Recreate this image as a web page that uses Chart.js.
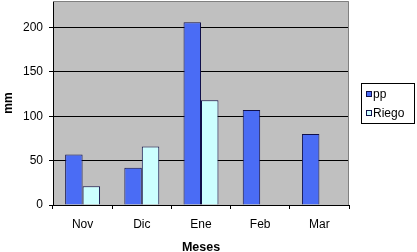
<!DOCTYPE html>
<html>
<head>
<meta charset="utf-8">
<script src="https://cdn.jsdelivr.net/npm/chart.js@4.4.0/dist/chart.umd.min.js"></script>
<style>
  html, body { margin: 0; padding: 0; background: #ffffff; }
  #wrap { width: 417px; height: 252px; position: relative; }
</style>
</head>
<body>
<div id="wrap"><canvas id="chart"></canvas></div>
<script>
const meses = ["Nov", "Dic", "Ene", "Feb", "Mar"];
const pp = [57, 42, 206, 107, 80];
const riego = [21, 66, 118, null, null];
const yTicks = [0, 50, 100, 150, 200];

const font = "'Liberation Sans', Arial, sans-serif";

// gray plot background, gray frame on top/right and a framed legend
const excelLook = {
  id: "excelLook",
  beforeDraw(chart) {
    const { ctx, chartArea: a } = chart;
    ctx.save();
    ctx.fillStyle = "#c0c0c0";
    ctx.fillRect(a.left, a.top, a.right - a.left, a.bottom - a.top);
    ctx.restore();
  },
  afterDraw(chart) {
    const { ctx, chartArea: a } = chart;
    ctx.save();
    ctx.strokeStyle = "#808080";
    ctx.lineWidth = 1;
    ctx.beginPath();
    ctx.moveTo(a.left, a.top + 0.5);
    ctx.lineTo(a.right - 0.5, a.top + 0.5);
    ctx.lineTo(a.right - 0.5, a.bottom);
    ctx.stroke();

    // legend
    const x0 = a.right + 12, y0 = 83;
    ctx.strokeStyle = "#000000";
    ctx.strokeRect(x0 + 0.5, y0 + 0.5, 53, 40);
    ctx.font = "12px " + font;
    ctx.textBaseline = "middle";
    chart.data.datasets.forEach((ds, i) => {
      const cy = y0 + 11 + i * 19;
      ctx.fillStyle = ds.backgroundColor;
      ctx.fillRect(x0 + 5, cy - 3, 6, 6);
      ctx.strokeStyle = ds.borderColor;
      ctx.strokeRect(x0 + 5.5, cy - 2.5, 5, 5);
      ctx.fillStyle = "#000000";
      ctx.fillText(ds.label, x0 + 12, cy + 1);
    });
    ctx.restore();
  }
};

new Chart(document.getElementById("chart"), {
  type: "bar",
  data: {
    labels: meses,
    datasets: [
      { label: "pp", data: pp, backgroundColor: "#4a6cf5", borderColor: "#10104a", borderWidth: 1 },
      { label: "Riego", data: riego, backgroundColor: "#ccffff", borderColor: "#10104a", borderWidth: 1 }
    ]
  },
  options: {
    responsive: true,
    maintainAspectRatio: false,
    animation: false,
    layout: { padding: { top: 1, right: 68, bottom: 0, left: 0 } },
    categoryPercentage: 0.59,
    barPercentage: 1,
    plugins: {
      legend: { display: false },
      tooltip: { enabled: false }
    },
    scales: {
      x: {
        offset: true,
        grid: { offset: true, drawOnChartArea: false, drawTicks: true, tickLength: 4, color: "#000000" },
        border: { color: "#000000" },
        ticks: { font: { family: font, size: 12 }, color: "#000000", padding: 8 },
        title: { display: true, text: "Meses", font: { family: font, size: 12.5, weight: "bold" }, color: "#000000", padding: { top: 6, bottom: -3 } },
        afterFit(scale) { scale.height = 47; scale.paddingLeft = 0; scale.paddingRight = 0; }
      },
      y: {
        min: 0,
        max: 230,
        afterBuildTicks(scale) { scale.ticks = yTicks.map(v => ({ value: v })); },
        grid: { color: "#000000", tickLength: 4 },
        border: { color: "#000000" },
        ticks: { font: { family: font, size: 12 }, color: "#000000", padding: 6 },
        title: { display: true, text: "mm", font: { family: font, size: 12, weight: "bold" }, color: "#000000", padding: 1 },
        afterFit(scale) { scale.width = 53; scale.paddingTop = 0; scale.paddingBottom = 0; }
      }
    }
  },
  plugins: [excelLook]
});
</script>
</body>
</html>
